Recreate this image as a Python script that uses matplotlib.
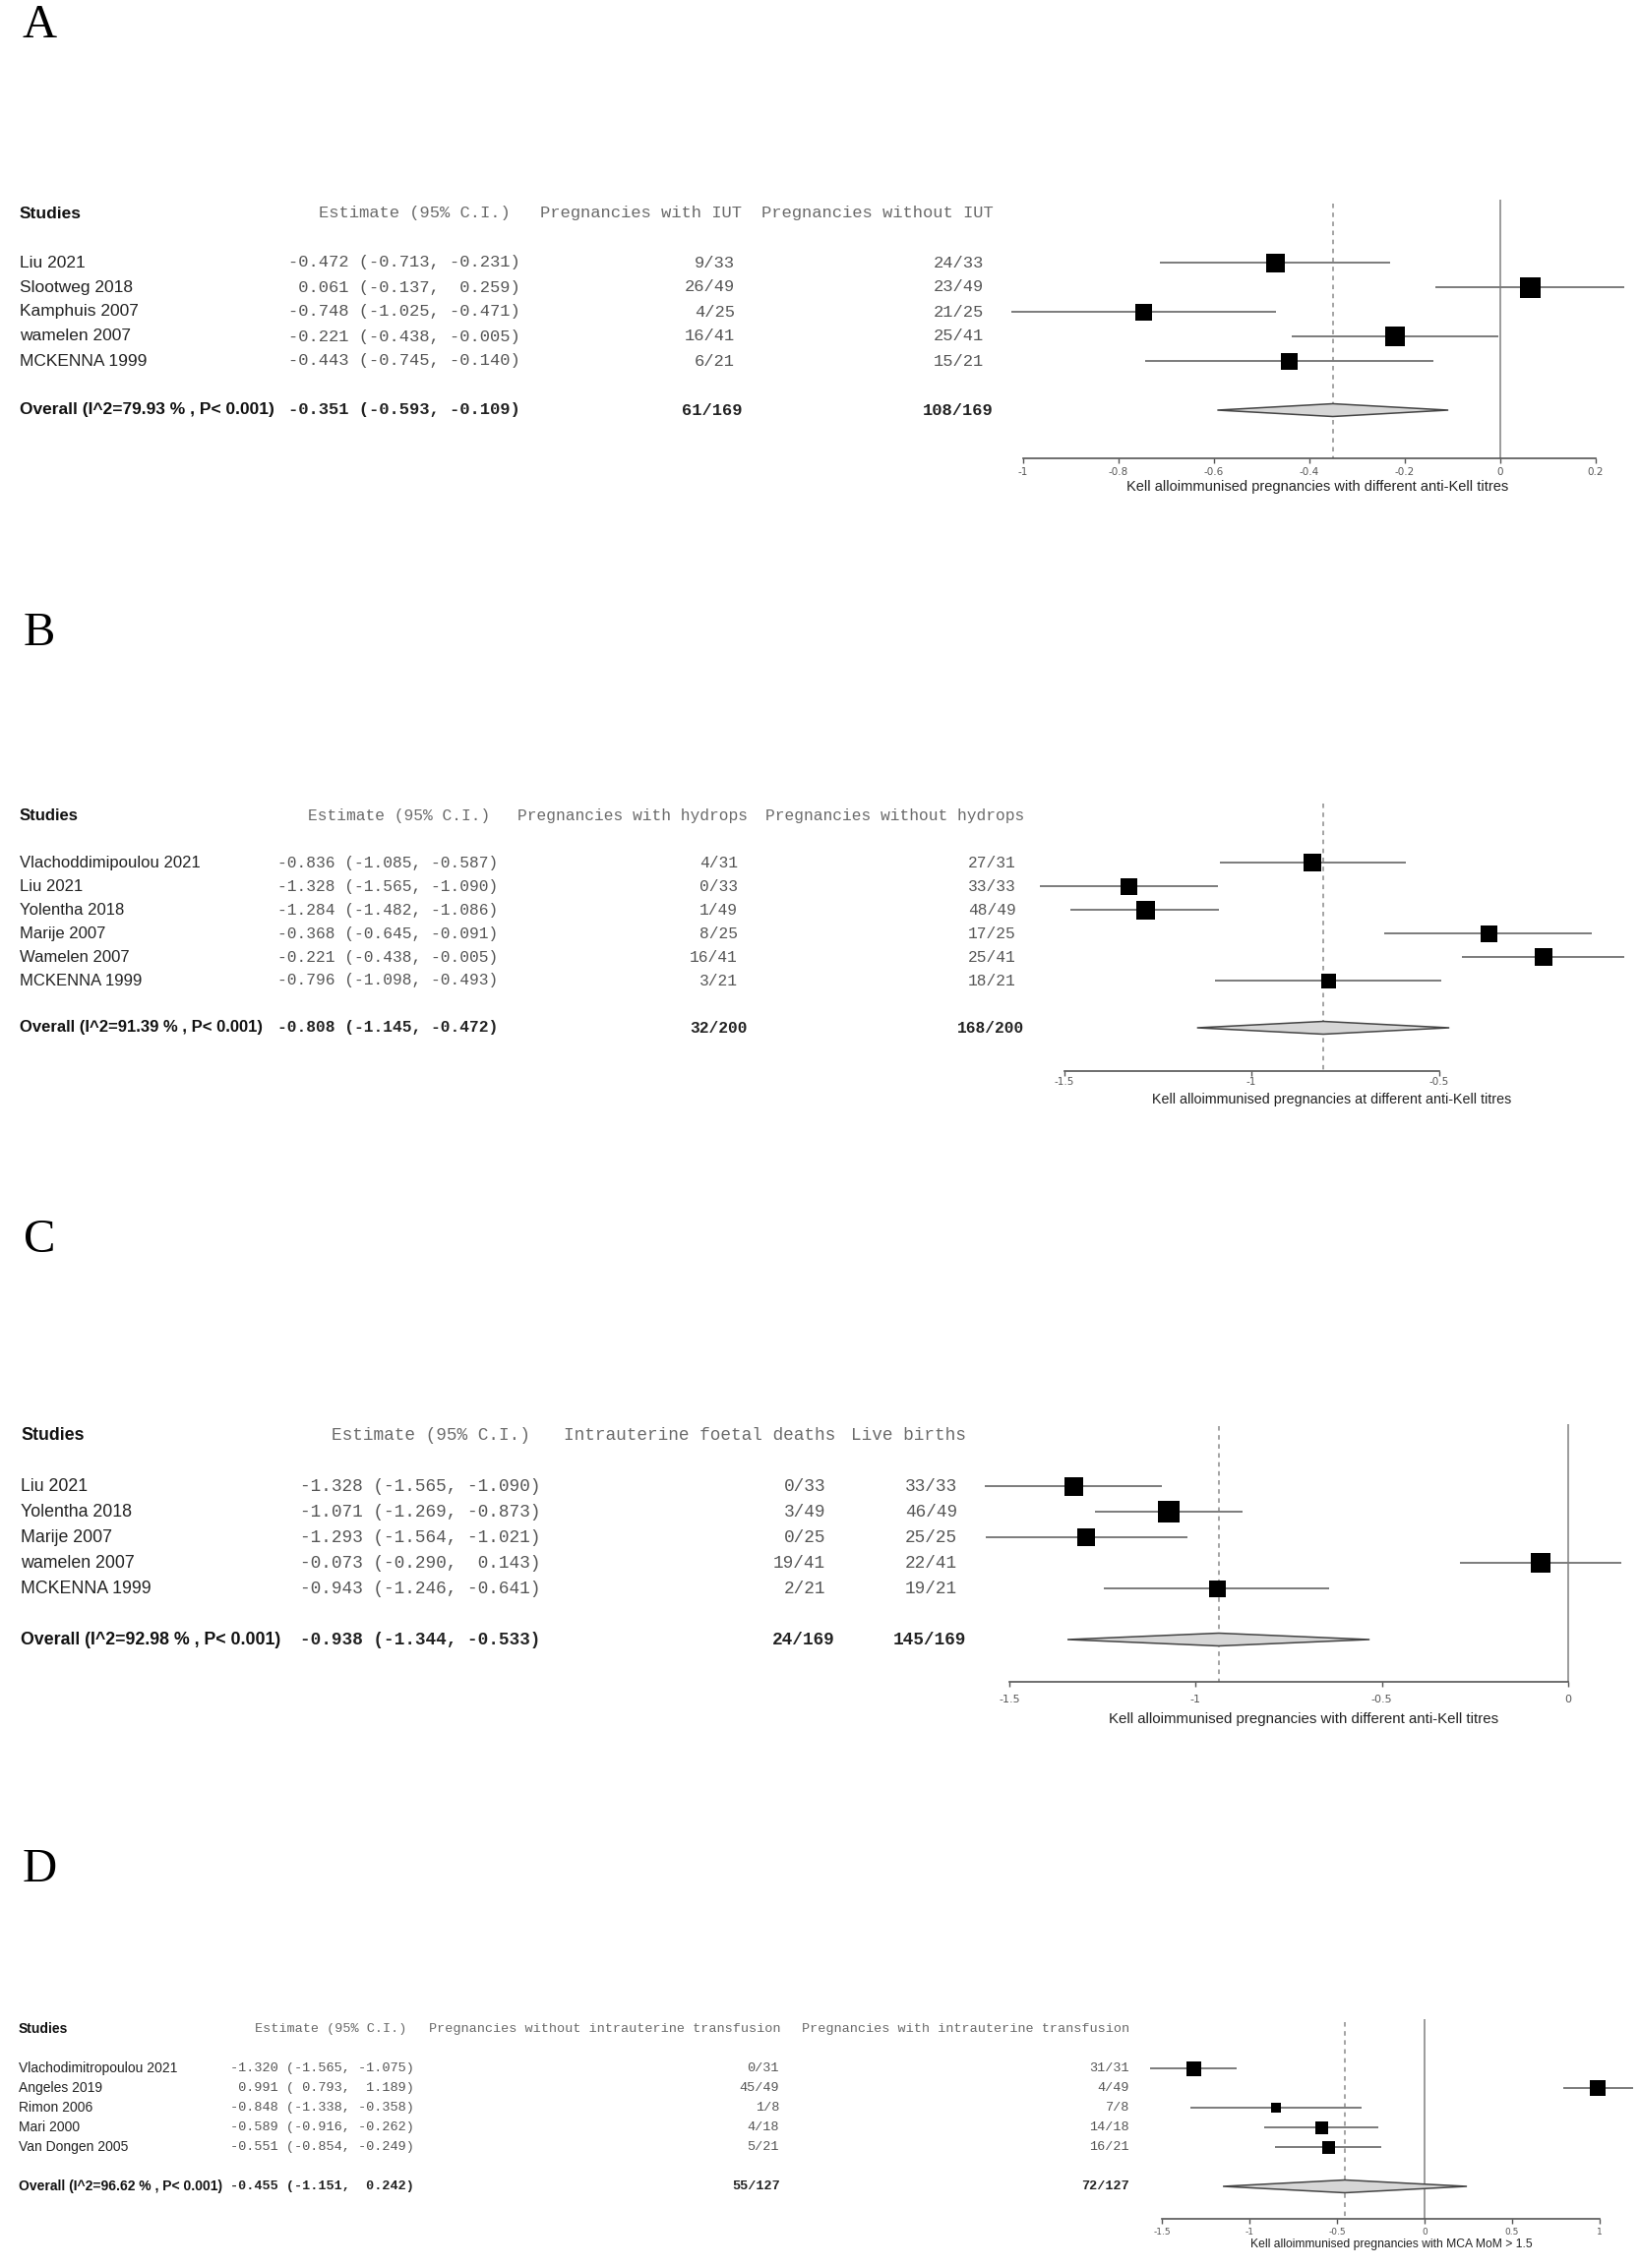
import numpy as np
import matplotlib
matplotlib.use("Agg")
import matplotlib.pyplot as plt
from matplotlib import transforms
from matplotlib.patches import Polygon

# ---- data ----
# A: IUT
studies_a = ["Liu 2021", "Slootweg 2018", "Kamphuis 2007", "wamelen 2007", "MCKENNA 1999"]
est_a = [-0.472, 0.061, -0.748, -0.221, -0.443]
lo_a = [-0.713, -0.137, -1.025, -0.438, -0.745]
hi_a = [-0.231, 0.259, -0.471, -0.005, -0.140]
ev1_a = [9, 26, 4, 16, 6]
ev2_a = [24, 23, 21, 25, 15]
tot_a = [33, 49, 25, 41, 21]
overall_a = [-0.351, -0.593, -0.109]
i2_a = 79.93

# B: hydrops
studies_b = ["Vlachoddimipoulou 2021", "Liu 2021", "Yolentha 2018", "Marije 2007", "Wamelen 2007", "MCKENNA 1999"]
est_b = [-0.836, -1.328, -1.284, -0.368, -0.221, -0.796]
lo_b = [-1.085, -1.565, -1.482, -0.645, -0.438, -1.098]
hi_b = [-0.587, -1.090, -1.086, -0.091, -0.005, -0.493]
ev1_b = [4, 0, 1, 8, 16, 3]
ev2_b = [27, 33, 48, 17, 25, 18]
tot_b = [31, 33, 49, 25, 41, 21]
overall_b = [-0.808, -1.145, -0.472]
i2_b = 91.39

# C: intrauterine foetal deaths
studies_c = ["Liu 2021", "Yolentha 2018", "Marije 2007", "wamelen 2007", "MCKENNA 1999"]
est_c = [-1.328, -1.071, -1.293, -0.073, -0.943]
lo_c = [-1.565, -1.269, -1.564, -0.290, -1.246]
hi_c = [-1.090, -0.873, -1.021, 0.143, -0.641]
ev1_c = [0, 3, 0, 19, 2]
ev2_c = [33, 46, 25, 22, 19]
tot_c = [33, 49, 25, 41, 21]
overall_c = [-0.938, -1.344, -0.533]
i2_c = 92.98

# D: MCA MoM > 1.5
studies_d = ["Vlachodimitropoulou 2021", "Angeles 2019", "Rimon 2006", "Mari 2000", "Van Dongen 2005"]
est_d = [-1.320, 0.991, -0.848, -0.589, -0.551]
lo_d = [-1.565, 0.793, -1.338, -0.916, -0.854]
hi_d = [-1.075, 1.189, -0.358, -0.262, -0.249]
ev1_d = [0, 45, 1, 4, 5]
ev2_d = [31, 4, 7, 14, 16]
tot_d = [31, 49, 8, 18, 21]
overall_d = [-0.455, -1.151, 0.242]
i2_d = 96.62

W, H = 1667, 2306
fig = plt.figure(figsize=(W / 100, H / 100), dpi=100)

SANS = "Liberation Sans"
MONO = "Liberation Mono"
SERIF = "Liberation Serif"


def fmt_ci(e, l, h):
    return f"{e:6.3f} ({l:6.3f}, {h:6.3f})"


def forest(letter, names, est, lo, hi, ev1, ev2, tot, ov, i2, heads, xlabel, ticks, lay):
    n = len(names)
    x0, ppu = lay["x0"], lay["ppu"]
    row0, step = lay["row0"], lay["step"]
    axis_px = lay["axis"]
    top_px = lay["top"]
    left_px = x0 + lay["xlim"][0] * ppu
    right_px = x0 + lay["xlim"][1] * ppu
    ax = fig.add_axes([left_px / W, 1 - axis_px / H, (right_px - left_px) / W, (axis_px - top_px) / H])
    ax.patch.set_alpha(0)
    ax.set_xlim(*lay["xlim"])
    y_bot = (axis_px - row0) / step
    y_top = (top_px - row0) / step
    ax.set_ylim(y_bot, y_top)
    for s in ["top", "left", "right"]:
        ax.spines[s].set_visible(False)
    ax.spines["bottom"].set_bounds(ticks[0], ticks[-1])
    ax.spines["bottom"].set_color("#555555")
    ax.spines["bottom"].set_linewidth(1.2)
    ax.set_yticks([])
    ax.set_xticks(ticks)
    ax.set_xticklabels([f"{t:g}" for t in ticks])
    fs_t = lay["fs_tick"]
    tick_len = 5
    pad = max(0.0, (lay["tick_y"] - axis_px - tick_len - fs_t * 1.389 * 0.5) * 0.72)
    ax.tick_params(axis="x", direction="out", length=tick_len * 0.72, width=1, color="#555555",
                   labelsize=fs_t, labelcolor="#555555", pad=pad)

    rows = np.arange(n)
    ov_row = n + 1
    # reference lines
    if lay.get("ztop") is not None:
        ax.vlines(0, (lay["ztop"] - row0) / step, y_bot, colors="#8a8a8a", lw=1.2, zorder=1)
    ax.vlines(ov[0], (lay["dtop"] - row0) / step, y_bot, colors="#8a8a8a", lw=1.1,
              linestyles=(0, (3, 3)), zorder=1)
    # CIs and boxes
    ax.hlines(rows, lo, hi, colors="#7b7b7b", lw=1.4, zorder=2)
    for r, e, b in zip(rows, est, lay["box"]):
        ax.plot(e, r, "s", ms=b * 0.72, color="black", mew=0, zorder=3)
    h = 6.5 / step
    dia = Polygon([(ov[1], ov_row), (ov[0], ov_row - h), (ov[2], ov_row), (ov[0], ov_row + h)],
                  closed=True, facecolor="#d6d6d6", edgecolor="#444444", lw=1.1, zorder=3)
    ax.add_patch(dia)
    for art in ax.get_children():
        art.set_clip_on(False)

    # text columns
    tr = transforms.blended_transform_factory(fig.transFigure, ax.transData)
    fs, fm = lay["fs_sans"], lay["fs_mono"]
    c = lay["cols"]
    ax.text(c["name"] / W, -2, "Studies", transform=tr, ha="left", va="center",
            family=SANS, fontsize=fs, fontweight="bold", color="#111111")
    for xr, txt in zip([c["est_h"], c["n1_h"], c["n2_h"]], heads):
        ax.text(xr / W, -2, txt, transform=tr, ha="right", va="center",
                family=MONO, fontsize=fm, color="#6a6a6a")
    for r, nm, e, l, hh, a, b, t in zip(rows, names, est, lo, hi, ev1, ev2, tot):
        ax.text(c["name"] / W, r, nm, transform=tr, ha="left", va="center",
                family=SANS, fontsize=fs, color="#222222")
        ax.text(c["est"] / W, r, fmt_ci(e, l, hh), transform=tr, ha="right", va="center",
                family=MONO, fontsize=fm, color="#555555")
        ax.text(c["n1"] / W, r, f"{a}/{t}", transform=tr, ha="right", va="center",
                family=MONO, fontsize=fm, color="#555555")
        ax.text(c["n2"] / W, r, f"{b}/{t}", transform=tr, ha="right", va="center",
                family=MONO, fontsize=fm, color="#555555")
    ax.text(c["name"] / W, ov_row, f"Overall (I^2={i2:.2f} % , P< 0.001)", transform=tr,
            ha="left", va="center", family=SANS, fontsize=fs, fontweight="bold", color="#111111")
    ax.text(c["est"] / W, ov_row, fmt_ci(*ov), transform=tr, ha="right", va="center",
            family=MONO, fontsize=fm, fontweight="bold", color="#222222")
    ax.text(c["n1_h"] / W, ov_row, f"{sum(ev1)}/{sum(tot)}", transform=tr, ha="right", va="center",
            family=MONO, fontsize=fm, fontweight="bold", color="#222222")
    ax.text(c["n2_h"] / W, ov_row, f"{sum(ev2)}/{sum(tot)}", transform=tr, ha="right", va="center",
            family=MONO, fontsize=fm, fontweight="bold", color="#222222")

    # x label centred on the plotted range
    mid = (min(lo) + max(hi)) / 2
    trx = transforms.blended_transform_factory(ax.transData, fig.transFigure)
    ax.text(mid, 1 - lay["xlab_y"] / H, xlabel, transform=trx, ha="center", va="center",
            family=SANS, fontsize=lay["fs_xlab"], color="#222222")

    fig.text(40 / W, 1 - lay["letter"] / H, letter, ha="center", va="baseline",
             family=SERIF, fontsize=35, color="black")


forest("A", studies_a, est_a, lo_a, hi_a, ev1_a, ev2_a, tot_a, overall_a, i2_a,
       ["Estimate (95% C.I.)", "Pregnancies with IUT", "Pregnancies without IUT"],
       "Kell alloimmunised pregnancies with different anti-Kell titres",
       [-1, -0.8, -0.6, -0.4, -0.2, 0, 0.2],
       dict(x0=1525, ppu=485, xlim=(-1.1, 0.28), row0=267, step=25, axis=466, top=198,
            ztop=203, dtop=207, box=[19, 21, 17, 20, 17], tick_y=480, xlab_y=495,
            fs_sans=12.5, fs_mono=12.3, fs_tick=7.5, fs_xlab=10.5, letter=38,
            cols=dict(name=20, est=529, est_h=519, n1=747, n1_h=754, n2=1000, n2_h=1010)))

forest("B", studies_b, est_b, lo_b, hi_b, ev1_b, ev2_b, tot_b, overall_b, i2_b,
       ["Estimate (95% C.I.)", "Pregnancies with hydrops", "Pregnancies without hydrops"],
       "Kell alloimmunised pregnancies at different anti-Kell titres",
       [-1.5, -1, -0.5],
       dict(x0=1653, ppu=381, xlim=(-1.62, 0.02), row0=877, step=24, axis=1089, top=812,
            ztop=None, dtop=817, box=[18, 17, 19, 17, 18, 15], tick_y=1100, xlab_y=1118,
            fs_sans=12.0, fs_mono=11.7, fs_tick=7.5, fs_xlab=10.3, letter=656,
            cols=dict(name=20, est=506, est_h=498, n1=750, n1_h=760, n2=1033, n2_h=1041)))

forest("C", studies_c, est_c, lo_c, hi_c, ev1_c, ev2_c, tot_c, overall_c, i2_c,
       ["Estimate (95% C.I.)", "Intrauterine foetal deaths", "Live births"],
       "Kell alloimmunised pregnancies with different anti-Kell titres",
       [-1.5, -1, -0.5, 0],
       dict(x0=1594, ppu=378.7, xlim=(-1.62, 0.18), row0=1511, step=26, axis=1710, top=1444,
            ztop=1448, dtop=1450, box=[19, 22, 18, 20, 17], tick_y=1729, xlab_y=1748,
            fs_sans=12.8, fs_mono=12.8, fs_tick=8, fs_xlab=10.8, letter=1273,
            cols=dict(name=21, est=549, est_h=539, n1=839, n1_h=849, n2=973, n2_h=982)))

forest("D", studies_d, est_d, lo_d, hi_d, ev1_d, ev2_d, tot_d, overall_d, i2_d,
       ["Estimate (95% C.I.)", "Pregnancies without intrauterine transfusion",
        "Pregnancies with intrauterine transfusion"],
       "Kell alloimmunised pregnancies with MCA MoM > 1.5",
       [-1.5, -1, -0.5, 0, 0.5, 1],
       dict(x0=1448, ppu=178, xlim=(-1.62, 1.22), row0=2103, step=20, axis=2256, top=2050,
            ztop=2053, dtop=2056, box=[15, 16, 10, 13, 13], tick_y=2270, xlab_y=2282,
            fs_sans=10.0, fs_mono=9.7, fs_tick=6.5, fs_xlab=8.7, letter=1913,
            cols=dict(name=19, est=421, est_h=413, n1=792, n1_h=793, n2=1148, n2_h=1148)))

fig.savefig("out.png", dpi=100, facecolor="white")
